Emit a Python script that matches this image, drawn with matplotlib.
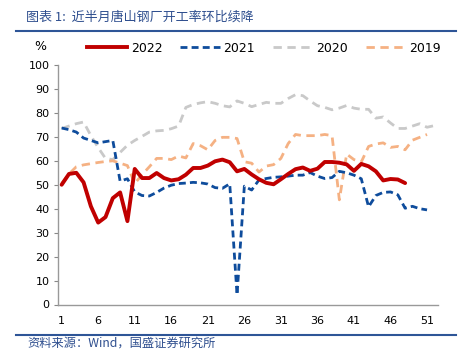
import matplotlib
matplotlib.use("Agg")
import matplotlib.pyplot as plt
from matplotlib.lines import Line2D

plt.rcParams['font.family'] = ['DejaVu Sans', 'Noto Sans CJK SC']

title = "图表 1:  近半月唐山钢厂开工率环比续降"
source = "资料来源：Wind，国盛证券研究所"
unit = "%"

y2022 = [50, 54.5, 55, 51, 41, 34.2, 36.5, 44.4, 46.8, 34.8, 56.6, 52.8, 52.8, 54.9, 52.8,
         51.8, 52.3, 54.2, 57, 57, 58, 59.8, 60.5, 59.4, 55.6, 56.6, 54.3, 52.3, 50.8, 50.2,
         52.3, 54.5, 56.5, 57.2, 55.8, 56.7, 59.5, 59.5, 59.2, 58.5, 55.8, 58.7, 57.7, 55.6,
         51.8, 52.4, 52.2, 50.7]
y2021 = [73.7, 73, 72, 69.5, 68.5, 67.5, 68, 68.5, 51.5, 52.5, 47, 45.5, 45.3, 46.8, 48.6,
         49.8, 50.5, 50.7, 51, 50.8, 50.3, 48.8, 48.5, 50.4, 4, 49.4, 47.8, 52, 52.6, 53.1,
         53.3, 53.6, 54, 54, 55.1, 53.6, 52.6, 53, 55.6, 55, 54, 52.5, 40.8, 45.5, 46.8,
         47, 45.8, 40.2, 41, 40, 39.5]
y2020 = [73.5, 74.5, 75.5, 76.2, 70.5, 65.5, 61, 60.5, 63.5, 66.5, 68.5, 70.2, 72, 72.5, 72.7,
         73.4, 74.5, 82.3, 83.5, 84.2, 84.7, 84, 83, 82.5, 85, 84, 82.6, 83.5, 84.4, 84,
         84, 86, 87.6, 87.2, 85, 83, 82.3, 81.3, 82, 83.1, 82, 81.5, 81.5, 77.8, 78.3,
         75.8, 73.5, 73.5, 74.5, 75.5, 74, 74.7]
y2019 = [50.6, 54.5, 57.5, 58.3, 58.8, 59.3, 59.7, 60, 59, 58, 50.5, 54.2, 57.5, 61, 61,
         60.5, 62, 61.2, 67.2, 66.3, 64.6, 68.5, 69.8, 69.8, 69.3, 59.6, 59, 55.3, 57.8, 58.4,
         61, 67.2, 71, 70.5, 70.5, 70.5, 71, 70.5, 43.7, 62.8, 60.5, 59.5, 66, 67, 67.5,
         65.6, 66, 64.6, 68.6, 69.8, 71]
xticks = [1, 6, 11, 16, 21, 26, 31, 36, 41, 46, 51]
yticks = list(range(0, 101, 10))
labels = ["2022", "2021", "2020", "2019"]

c22, c21, c20, c19 = "#C00000", "#0E4C9C", "#C9C9C9", "#F5B183"

fig = plt.figure(figsize=(4.62, 3.54), dpi=100)
ax = fig.add_axes([58/462, 1-304.5/354, 380/462, 239.5/354])

ax.plot(range(1, len(y2020)+1), y2020, color=c20, lw=2, dashes=(3, 2))
ax.plot(range(1, len(y2019)+1), y2019, color=c19, lw=2, dashes=(3, 2))
ax.plot(range(1, len(y2021)+1), y2021, color=c21, lw=2, dashes=(2.5, 1.5))
ax.plot(range(1, len(y2022)+1), y2022, color=c22, lw=2.8, solid_capstyle='round')

ax.set_xlim(0.5, 52.5)
ax.set_ylim(0, 100)
ax.set_xticks(xticks)
ax.set_yticks(yticks)
ax.tick_params(axis='x', length=0, pad=8, labelsize=8)
ax.tick_params(axis='y', length=3, direction='out', colors='#888888', labelcolor='black', pad=3, labelsize=8)
for s in ['top', 'right']:
    ax.spines[s].set_visible(False)
for s in ['left', 'bottom']:
    ax.spines[s].set_color('#999999')
    ax.spines[s].set_linewidth(1)

# legend row
fig.text(40/462, 1-47/354, unit, fontsize=9, ha='center', va='center')
handles = [Line2D([], [], color=c22, lw=2.8),
           Line2D([], [], color=c21, lw=2, dashes=(2.5, 1.5)),
           Line2D([], [], color=c20, lw=2, dashes=(3, 2)),
           Line2D([], [], color=c19, lw=2, dashes=(3, 2))]
fig.legend(handles, labels, loc='center', bbox_to_anchor=(264/462, 1-48/354), ncol=4,
           frameon=False, fontsize=9, handlelength=3.2, handletextpad=0.3, columnspacing=1.4)

# title and source
fig.text(26/462, 1-17/354, title, fontsize=9.4, color='#2F4F8F', ha='left', va='center',
         style='italic', family=['Noto Sans CJK SC', 'DejaVu Sans'])
fig.add_artist(Line2D([16/462, 456/462], [1-31/354, 1-31/354], color='#2E5597', lw=1.5))
fig.add_artist(Line2D([16/462, 456/462], [1-334.5/354, 1-334.5/354], color='#2E5597', lw=1.5))
fig.text(27/462, 1-343/354, source, fontsize=8.8, color='#2F4F8F', ha='left', va='center',
         style='italic', family=['Noto Sans CJK SC', 'DejaVu Sans'])

fig.savefig("out.png", dpi=100)
